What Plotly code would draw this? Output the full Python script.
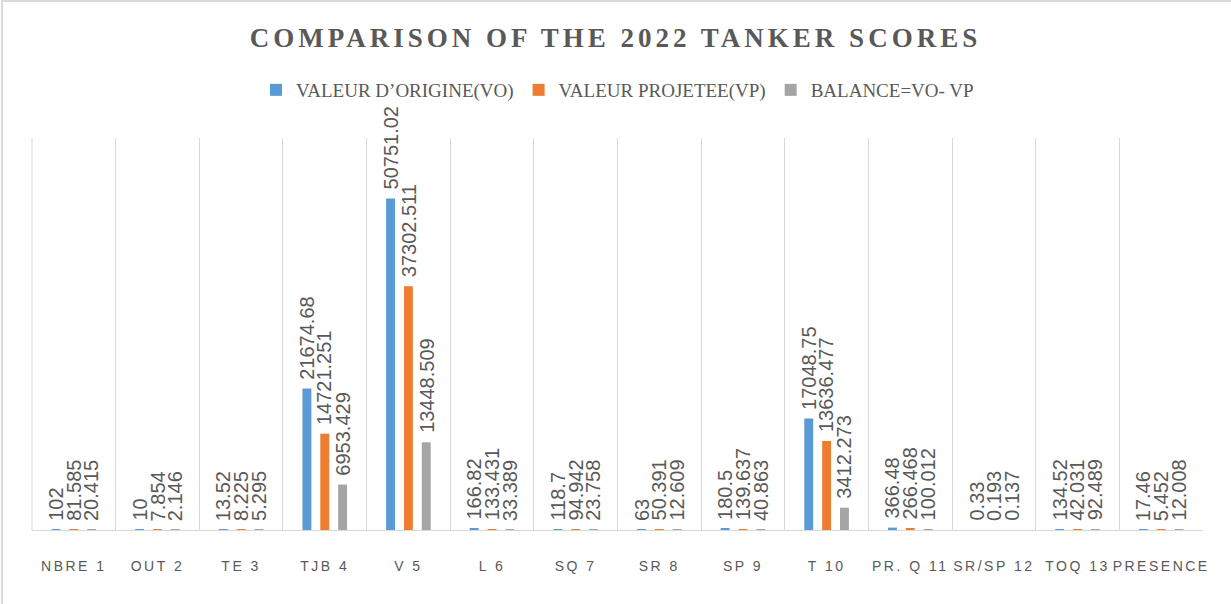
import plotly.graph_objects as go

categories = ["NBRE 1", "OUT 2", "TE 3", "TJB 4", "V 5", "L 6", "SQ 7", "SR 8",
              "SP 9", "T 10", "PR. Q 11", "SR/SP 12", "TOQ 13", "PRESENCE"]
valeur_origine = [102, 10, 13.52, 21674.68, 50751.02, 166.82, 118.7, 63,
                  180.5, 17048.75, 366.48, 0.33, 134.52, 17.46]
valeur_projetee = [81.585, 7.854, 8.225, 14721.251, 37302.511, 133.431, 94.942, 50.391,
                   139.637, 13636.477, 266.468, 0.193, 42.031, 5.452]
balance = [20.415, 2.146, 5.295, 6953.429, 13448.509, 33.389, 23.758, 12.609,
           40.863, 3412.273, 100.012, 0.137, 92.489, 12.008]

series = [
    ("VALEUR D’ORIGINE(VO)", valeur_origine, "#5B9BD5"),
    ("VALEUR PROJETEE(VP)", valeur_projetee, "#ED7D31"),
    ("BALANCE=VO- VP", balance, "#A5A5A5"),
]

W, H = 1231, 604
ML, MR, MT, MB = 32, 28, 138, 74
BARGAP = 0.36
plot_w = W - ML - MR
plot_h = H - MT - MB
cat_w = plot_w / len(categories)
slot = (1 - BARGAP) * cat_w / len(series)

fig = go.Figure()
annotations = []
for i, (name, vals, color) in enumerate(series):
    fig.add_trace(go.Bar(
        x=categories, y=vals, name=name,
        marker=dict(color=color, line=dict(width=0)),
    ))
    shift = (i - (len(series) - 1) / 2) * slot
    for c, v in zip(categories, vals):
        annotations.append(dict(
            x=c, y=v, xref="x", yref="y", text=str(v), showarrow=False,
            textangle=-90, xanchor="center", yanchor="bottom",
            xshift=shift, yshift=7,
            font=dict(family="Liberation Sans, Arial, sans-serif", size=20, color="#595959"),
        ))

ticktext = ['<span style="letter-spacing:2.5px">%s</span>' % c for c in categories]

fig.update_layout(
    width=W, height=H,
    paper_bgcolor="white", plot_bgcolor="white",
    margin=dict(l=ML, r=MR, t=MT, b=MB, autoexpand=False),
    barmode="group", bargap=BARGAP, bargroupgap=0.5,
    title=dict(
        text='<span style="letter-spacing:4px">COMPARISON OF THE 2022 TANKER SCORES</span>',
        x=0.5, xanchor="center", y=1 - 38 / H, yanchor="middle", yref="container",
        font=dict(family="Liberation Serif, Times New Roman, serif", size=27, color="#595959", weight="bold"),
    ),
    legend=dict(
        orientation="h", x=0.5, xanchor="center", y=1 - 90 / H, yanchor="middle",
        yref="container",
        font=dict(family="Liberation Serif, Times New Roman, serif", size=19, color="#595959"),
        itemwidth=30, traceorder="normal",
    ),
    xaxis=dict(
        type="category", tickmode="array", tickvals=categories, ticktext=ticktext,
        tickson="boundaries", showgrid=True, gridcolor="#D9D9D9", gridwidth=1,
        showline=True, linecolor="#D9D9D9", linewidth=1, mirror=False,
        ticks="", ticklabelstandoff=23, automargin=False,
        tickfont=dict(family="Liberation Sans, Arial, sans-serif", size=14, color="#595959"),
        tickangle=0,
    ),
    yaxis=dict(
        range=[0, 60000], showgrid=False, showticklabels=False, zeroline=False,
        showline=False, automargin=False,
    ),
    annotations=annotations,
    shapes=[
        dict(type="rect", xref="paper", yref="paper",
             x0=-30 / plot_w, x1=1 + (MR + 10) / plot_w,
             y0=-(MB + 10) / plot_h, y1=1 + (MT - 1) / plot_h,
             line=dict(color="#D9D9D9", width=2), fillcolor="rgba(0,0,0,0)", layer="below"),
        dict(type="line", xref="paper", yref="paper",
             x0=0, x1=0, y0=0, y1=1,
             line=dict(color="#D9D9D9", width=1)),
    ],
)

fig.write_html(
    "out.html",
    config={"displayModeBar": False},
    post_script="document.body.style.margin='0px';document.body.style.overflow='hidden';",
)
